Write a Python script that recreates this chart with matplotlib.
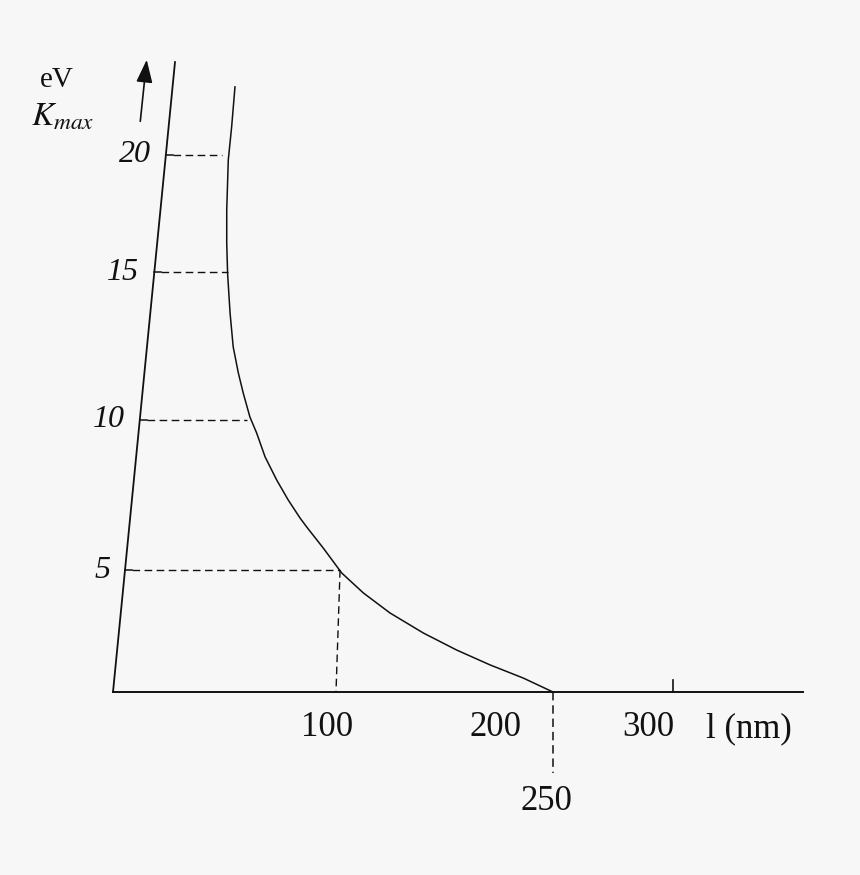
import numpy as np
import matplotlib.pyplot as plt

# curve values: wavelength (nm) and K_max (eV)
curve_lam = [54.7, 53.2, 51.7, 51.0, 51.0, 51.4, 52.5, 53.9, 56.2, 58.4,
             61.4, 64.4, 68.2, 73.4, 78.6, 83.9, 86.9, 94.3, 103.9, 118.9,
             137.3, 160.3, 183.4, 206.5, 229.5, 250.0]
curve_k = [22.91, 21.20, 19.79, 17.65, 16.24, 14.93, 13.61, 12.47, 11.59, 10.91,
           10.10, 9.57, 8.77, 8.00, 7.33, 6.73, 6.43, 5.73, 4.88, 4.06,
           3.24, 2.42, 1.72, 1.11, 0.57, 0.0]

# dashed guide lines: energy level and where the dash stops (nm)
guide_k = [5, 10, 15, 20]
guide_end = [102.8, 60.1, 51.6, 48.9]
k_labels = ['5', '10', '15', '20']

x_ticks = [100, 200, 300]
x_labels = ['100', '200', '300']
threshold = 250

# the drawing is hand made, the axes are not evenly spaced:
# value -> pixel calibration
x_cal_nm = [-100, 0, 100, 250, 300, 400]
x_cal_px = [113 - 223, 113, 336, 553, 673, 673 + 240]
y_cal_ev = [-20, 0, 5, 10, 15, 20, 40]
y_cal_px = [183 - 488, 183, 305, 455, 603, 720, 720 + 468]


def fwd_x(v):
    return np.interp(v, x_cal_nm, x_cal_px)


def inv_x(p):
    return np.interp(p, x_cal_px, x_cal_nm)


def fwd_y(v):
    return np.interp(v, y_cal_ev, y_cal_px)


def inv_y(p):
    return np.interp(p, y_cal_px, y_cal_ev)


plt.rcParams['font.family'] = ['Liberation Serif', 'DejaVu Serif']
plt.rcParams['mathtext.fontset'] = 'stix'

bg = '#f7f7f7'
fig = plt.figure(figsize=(8.6, 8.75), dpi=100, facecolor=bg)
ax = fig.add_axes([0, 0, 1, 1])
ax.set_facecolor(bg)
ax.set_xscale('function', functions=(fwd_x, inv_x))
ax.set_yscale('function', functions=(fwd_y, inv_y))
ax.set_xlim(float(inv_x(0)), float(inv_x(860)))
ax.set_ylim(float(inv_y(0)), float(inv_y(875)))
ax.axis('off')

lc = '#111111'

# slanted K axis and the wavelength axis
k_top, lam_top = 23.97, 27.8
ax.plot([0, lam_top], [0, k_top], color=lc, lw=1.3)
ax.plot([0, 354.2], [0, 0], color=lc, lw=1.4)


def on_k_axis(k):
    # point of the slanted axis at energy k
    p0 = ax.transData.transform((0, 0))
    p1 = ax.transData.transform((lam_top, k_top))
    py = ax.transData.transform((0, k))[1]
    px = p0[0] + (py - p0[1]) / (p1[1] - p0[1]) * (p1[0] - p0[0])
    return ax.transData.inverted().transform((px, py))[0]


# curve
ax.plot(curve_lam, curve_k, color=lc, lw=1.1, solid_joinstyle='round')

dash = (0, (5.5, 3.2))
for k, end, lab in zip(guide_k, guide_end, k_labels):
    x0 = on_k_axis(k)
    p = ax.transData.transform((x0, k))
    x1 = ax.transData.inverted().transform((p[0] + 7, p[1]))[0]
    ax.plot([x0, x1], [k, k], color=lc, lw=1.1)
    ax.plot([x1, end], [k, k], color=lc, lw=1.0, linestyle=dash)
    ax.annotate(lab, (x0, k), xytext=(-15, 0), textcoords='offset pixels',
                ha='right', va='center', fontsize=23, style='italic', color=lc)

# drop line from the 5 eV point and the threshold mark
ax.plot([guide_end[0], x_ticks[0]], [guide_k[0], 0], color=lc, lw=1.0, linestyle=dash)
ax.plot([threshold, threshold], [0, -3.3], color=lc, lw=1.1, linestyle=dash)
ax.plot([x_ticks[2], x_ticks[2]], [0, 0.5], color=lc, lw=1.2)

offs = [-9, 15, -25]
for t, lab, dx in zip(x_ticks, x_labels, offs):
    ax.annotate(lab, (t, 0), xytext=(dx, -36), textcoords='offset pixels',
                ha='center', va='center', fontsize=25, color=lc)
ax.annotate('l (nm)', (x_ticks[2], 0), xytext=(76, -37), textcoords='offset pixels',
            ha='center', va='center', fontsize=25, color=lc)
ax.annotate(str(threshold), (threshold, 0), xytext=(-7, -109), textcoords='offset pixels',
            ha='center', va='center', fontsize=25, color=lc)

# axis title and arrow
fig.text(57 / 860, 1 - 80 / 875, 'eV', ha='center', va='center', fontsize=21, color=lc)
fig.text(63 / 860, 1 - 117 / 875, r'$K_{max}$', ha='center', va='center', fontsize=24, color=lc)
ax.annotate('', xy=(147 / 860, 1 - 57 / 875), xytext=(140 / 860, 1 - 124 / 875),
            xycoords='figure fraction', textcoords='figure fraction',
            arrowprops=dict(arrowstyle='-|>,head_length=1.4,head_width=0.5',
                            color=lc, lw=1.2))

plt.savefig('out.png', dpi=100, facecolor=bg)
